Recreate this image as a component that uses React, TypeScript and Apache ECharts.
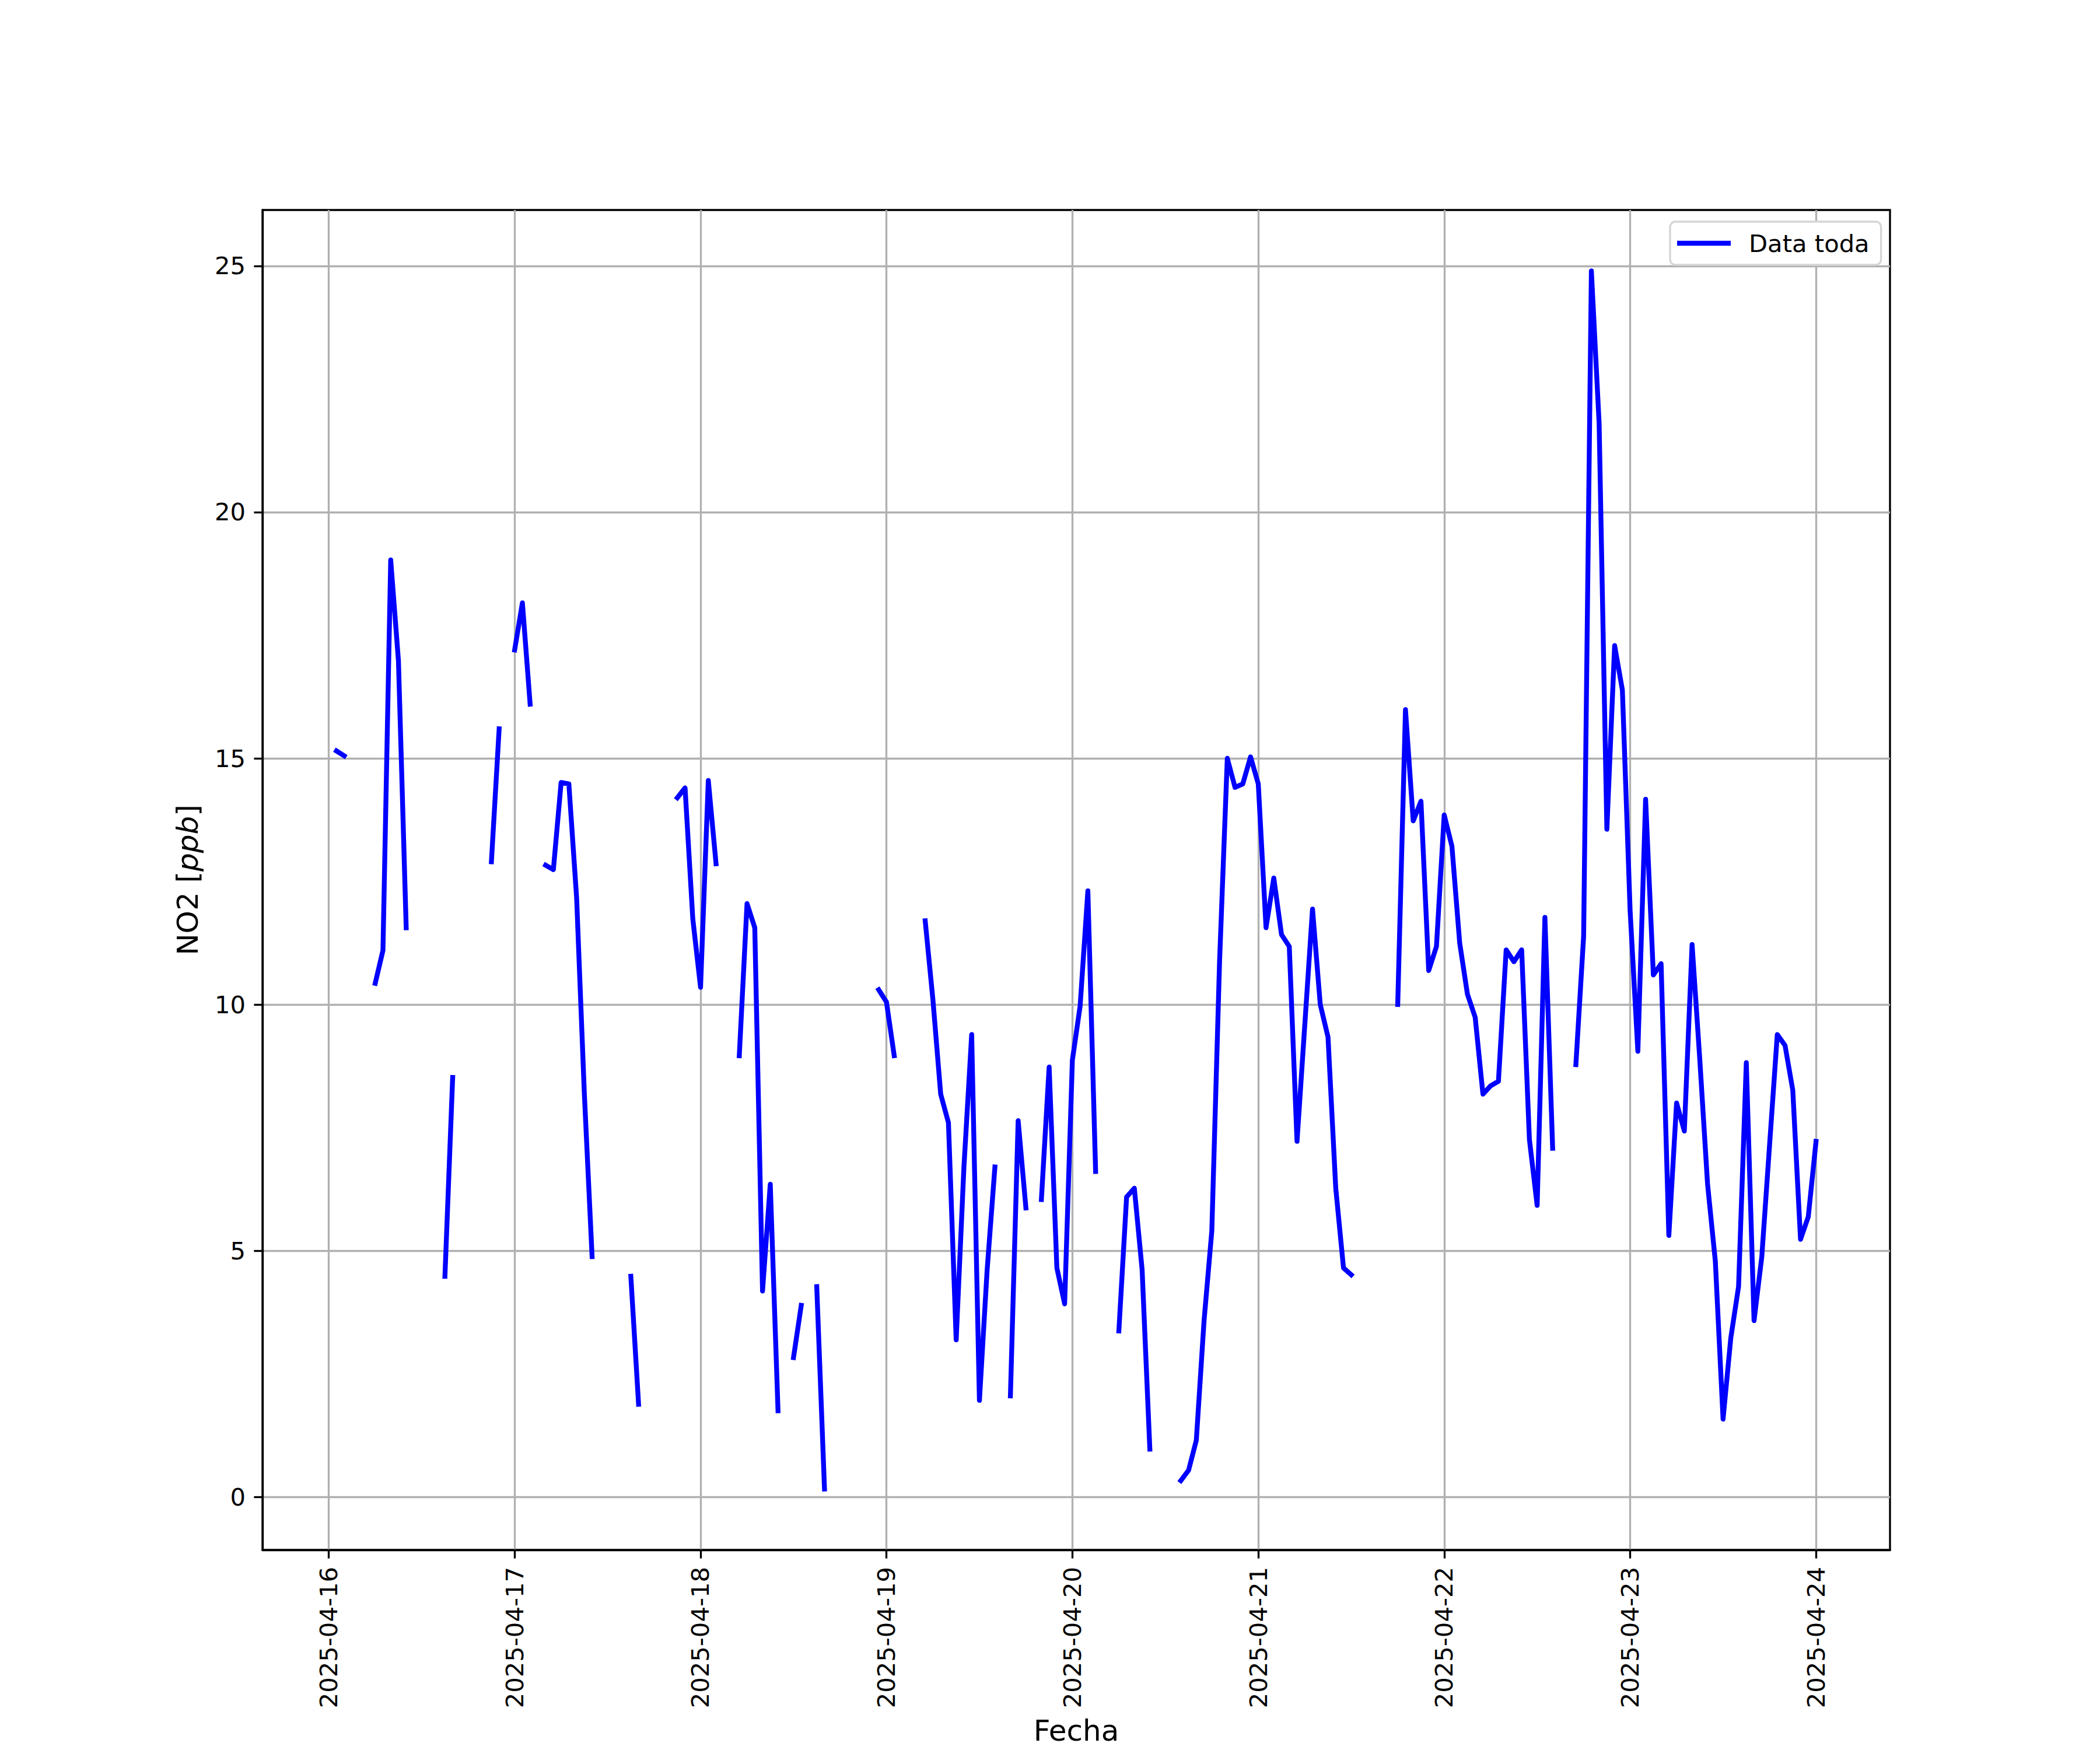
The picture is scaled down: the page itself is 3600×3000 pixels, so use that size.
import React, { useEffect, useRef } from "react";
import * as echarts from "echarts";

// NO2 [ppb], hourly. day16 starts at 2025-04-16 01:00; the others start at 00:00.
const day16 = [15.15, 15.05, null, null, null, 10.43, 11.1, 19.03, 16.98, 11.56, null, null, null, null, 4.48, 8.52, null, null, null, null, 12.9, 15.6, null];
const day17 = [17.2, 18.16, 16.1, null, 12.83, 12.74, 14.51, 14.48, 12.17, 8.18, 4.88, null, null, null, null, 4.48, 1.88, null, null, null, null, 14.2, 14.4, 11.74];
const day18 = [10.35, 14.55, 12.86, null, null, 8.96, 12.05, 11.56, 4.18, 6.35, 1.75, null, 2.83, 3.89, null, 4.27, 0.16, null, null, null, null, null, null, 10.3];
const day19 = [10.05, 8.96, null, null, null, 11.7, 10.09, 8.18, 7.6, 3.19, 6.7, 9.39, 1.96, 4.62, 6.7, null, 2.05, 7.64, 5.87, null, 6.04, 8.73, 4.65, 3.92];
const day20 = [8.87, 9.97, 12.31, 6.61, null, null, 3.37, 6.09, 6.27, 4.62, 0.97, null, null, null, 0.33, 0.54, 1.15, 3.58, 5.4, 10.87, 15.0, 14.41, 14.48, 15.03];
const day21 = [14.48, 11.56, 12.57, 11.42, 11.18, 7.22, 9.58, 11.94, 10.0, 9.34, 6.27, 4.65, 4.51, null, null, null, null, null, 10.0, 15.99, 13.73, 14.13, 10.69, 11.18];
const day22 = [13.85, 13.21, 11.25, 10.21, 9.74, 8.18, 8.35, 8.44, 11.11, 10.87, 11.11, 7.26, 5.92, 11.77, 7.08, null, null, 8.78, 11.39, 24.9, 21.8, 13.56, 17.29, 16.39];
const day23 = [11.91, 9.05, 14.17, 10.6, 10.83, 5.31, 8.0, 7.43, 11.22, 8.87, 6.35, 4.79, 1.58, 3.23, 4.27, 8.82, 3.58, 4.88, 7.14, 9.39, 9.17, 8.26, 5.23, 5.69];
const day24 = [7.22];

const firstHour = 1; // hours after 2025-04-16 00:00
const xTickHours = [0, 24, 48, 72, 96, 120, 144, 168, 192];
const xTickLabels = ["2025-04-16", "2025-04-17", "2025-04-18", "2025-04-19", "2025-04-20", "2025-04-21", "2025-04-22", "2025-04-23", "2025-04-24"];
const yTicks = [0, 5, 10, 15, 20, 25];

const seriesName = "Data toda";

export default function App() {
  const ref = useRef<HTMLDivElement>(null);

  useEffect(() => {
    if (!ref.current) return;
    const chart = echarts.init(ref.current, undefined, { renderer: "svg" });
    const values = [...day16, ...day17, ...day18, ...day19, ...day20, ...day21, ...day22, ...day23, ...day24];
    const data = values.map((v, i) => [firstHour + i, v]);
    const xs = data.map((d) => d[0] as number);
    const ys = values.filter((v) => v !== null) as number[];
    const xMin0 = Math.min(...xs), xMax0 = Math.max(...xs);
    const yMin0 = Math.min(...ys), yMax0 = Math.max(...ys);
    const xPad = (xMax0 - xMin0) * 0.05;
    const yPad = (yMax0 - yMin0) * 0.05;

    const font = "DejaVu Sans";
    const lw = 3.33;

    chart.setOption({
      animation: false,
      backgroundColor: "#ffffff",
      textStyle: { fontFamily: font },
      grid: {
        left: 450, top: 360, width: 2790, height: 2310,
        show: true, borderColor: "#000000", borderWidth: lw, backgroundColor: "transparent",
        containLabel: false,
      },
      legend: {
        show: true,
        left: 2863, top: 380,
        data: [{ name: seriesName, icon: "rect" }],
        itemWidth: 92, itemHeight: 8.3,
        padding: [13, 20, 13, 12],
        backgroundColor: "#ffffff",
        borderColor: "#d5d5d5", borderWidth: lw, borderRadius: 9,
        textStyle: { fontFamily: font, fontSize: 41.7, color: "#000000", padding: [0, 0, 0, 26], lineHeight: 48 },
      },
      xAxis: {
        type: "value",
        min: xMin0 - xPad,
        max: xMax0 + xPad,
        name: "Fecha",
        nameLocation: "middle",
        nameGap: 282,
        nameTextStyle: { fontFamily: font, fontSize: 50, color: "#000000", verticalAlign: "top", lineHeight: 56 },
        axisLine: { show: true, onZero: false, lineStyle: { color: "#000000", width: lw } },
        axisTick: { show: true, length: 14.6, inside: false, customValues: xTickHours, lineStyle: { color: "#000000", width: lw } },
        axisLabel: {
          show: true, rotate: 90, margin: 29, fontSize: 41.7, color: "#000000", fontFamily: font,
          customValues: xTickHours,
          formatter: (v: number) => {
            const idx = xTickHours.indexOf(Math.round(v));
            return idx >= 0 ? xTickLabels[idx] : "";
          },
        },
        splitLine: { show: true, lineStyle: { color: "#b0b0b0", width: lw } },
      },
      yAxis: {
        type: "value",
        min: yMin0 - yPad,
        max: yMax0 + yPad,
        name: "NO2 [{i|ppb}]",
        nameLocation: "middle",
        nameRotate: 90,
        nameGap: 103,
        nameTextStyle: {
          fontFamily: font, fontSize: 50, color: "#000000",
          rich: { i: { fontFamily: font, fontSize: 50, fontStyle: "italic", color: "#000000" } },
        },
        axisLine: { show: true, onZero: false, lineStyle: { color: "#000000", width: lw } },
        axisTick: { show: true, length: 14.6, inside: false, customValues: yTicks, lineStyle: { color: "#000000", width: lw } },
        axisLabel: { show: true, margin: 29, fontSize: 41.7, color: "#000000", fontFamily: font, customValues: yTicks },
        splitLine: { show: true, lineStyle: { color: "#b0b0b0", width: lw } },
      },
      series: [
        {
          name: seriesName,
          type: "line",
          data,
          connectNulls: false,
          showSymbol: false,
          symbol: "none",
          color: "#0000ff",
          lineStyle: { color: "#0000ff", width: 8.33, cap: "square", join: "round" },
          z: 3,
        },
      ],
    });
    return () => chart.dispose();
  }, []);

  return (
    <div
      ref={ref}
      style={{ position: "fixed", left: 0, top: 0, width: 3600, height: 3000, background: "#ffffff" }}
    />
  );
}
